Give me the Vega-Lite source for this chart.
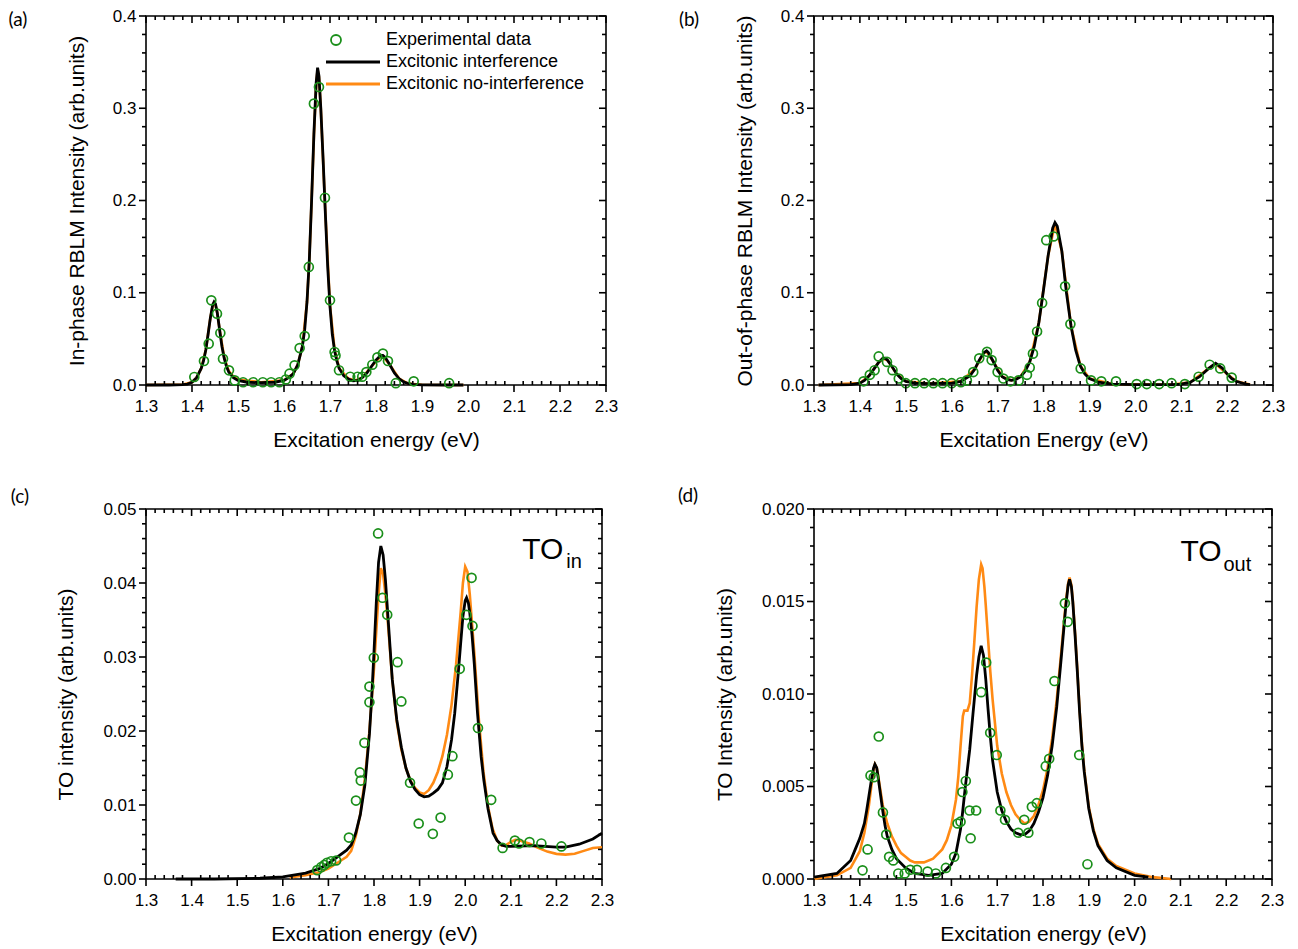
{
"$schema": "https://vega.github.io/schema/vega-lite/v6.json",
"padding": {"left": 7, "top": 6, "right": 5, "bottom": 5},
"config": {
  "view": {"stroke": "black", "strokeWidth": 1.6},
  "font": "Liberation Sans",
  "axis": {"grid": false, "domain": false, "ticks": false, "labelColor": "black", "labelFont": "Liberation Sans", "labelFontSize": 17, "titleFont": "Liberation Sans", "titleFontSize": 21, "titleFontWeight": "normal", "titleColor": "black", "labelFlush": false, "labelOverlap": false},
  "tick": {"opacity": 1, "color": "black", "thickness": 1.6},
  "legend": {"labelFont": "Liberation Sans"}
},
"datasets": {
  "xmaj": [{"energy":1.3},{"energy":1.4},{"energy":1.5},{"energy":1.6},{"energy":1.7},{"energy":1.8},{"energy":1.9},{"energy":2.0},{"energy":2.1},{"energy":2.2},{"energy":2.3}],
  "xmin": [{"energy":1.32},{"energy":1.34},{"energy":1.36},{"energy":1.38},{"energy":1.42},{"energy":1.44},{"energy":1.46},{"energy":1.48},{"energy":1.52},{"energy":1.54},{"energy":1.56},{"energy":1.58},{"energy":1.62},{"energy":1.64},{"energy":1.66},{"energy":1.68},{"energy":1.72},{"energy":1.74},{"energy":1.76},{"energy":1.78},{"energy":1.82},{"energy":1.84},{"energy":1.86},{"energy":1.88},{"energy":1.92},{"energy":1.94},{"energy":1.96},{"energy":1.98},{"energy":2.02},{"energy":2.04},{"energy":2.06},{"energy":2.08},{"energy":2.12},{"energy":2.14},{"energy":2.16},{"energy":2.18},{"energy":2.22},{"energy":2.24},{"energy":2.26},{"energy":2.28}],
  "yab_maj": [{"intensity":0},{"intensity":0.1},{"intensity":0.2},{"intensity":0.3},{"intensity":0.4}],
  "yab_min": [{"intensity":0.02},{"intensity":0.04},{"intensity":0.06},{"intensity":0.08},{"intensity":0.12},{"intensity":0.14},{"intensity":0.16},{"intensity":0.18},{"intensity":0.22},{"intensity":0.24},{"intensity":0.26},{"intensity":0.28},{"intensity":0.32},{"intensity":0.34},{"intensity":0.36},{"intensity":0.38}],
  "yc_maj": [{"intensity":0},{"intensity":0.01},{"intensity":0.02},{"intensity":0.03},{"intensity":0.04},{"intensity":0.05}],
  "yc_min": [{"intensity":0.002},{"intensity":0.004},{"intensity":0.006},{"intensity":0.008},{"intensity":0.012},{"intensity":0.014},{"intensity":0.016},{"intensity":0.018},{"intensity":0.022},{"intensity":0.024},{"intensity":0.026},{"intensity":0.028},{"intensity":0.032},{"intensity":0.034},{"intensity":0.036},{"intensity":0.038},{"intensity":0.042},{"intensity":0.044},{"intensity":0.046},{"intensity":0.048}],
  "yd_maj": [{"intensity":0},{"intensity":0.005},{"intensity":0.01},{"intensity":0.015},{"intensity":0.02}],
  "yd_min": [{"intensity":0.001},{"intensity":0.002},{"intensity":0.003},{"intensity":0.004},{"intensity":0.006},{"intensity":0.007},{"intensity":0.008},{"intensity":0.009},{"intensity":0.011},{"intensity":0.012},{"intensity":0.013},{"intensity":0.014},{"intensity":0.016},{"intensity":0.017},{"intensity":0.018},{"intensity":0.019}],
  "a_int": [{"energy":1.30,"intensity":0},{"energy":1.35,"intensity":0},{"energy":1.38,"intensity":0.0005},{"energy":1.39,"intensity":0.001},{"energy":1.40,"intensity":0.003},{"energy":1.41,"intensity":0.008},{"energy":1.42,"intensity":0.018},{"energy":1.425,"intensity":0.026},{"energy":1.43,"intensity":0.038},{"energy":1.435,"intensity":0.055},{"energy":1.44,"intensity":0.073},{"energy":1.445,"intensity":0.087},{"energy":1.448,"intensity":0.090},{"energy":1.451,"intensity":0.088},{"energy":1.455,"intensity":0.078},{"energy":1.46,"intensity":0.060},{"energy":1.465,"intensity":0.042},{"energy":1.47,"intensity":0.029},{"energy":1.475,"intensity":0.020},{"energy":1.48,"intensity":0.014},{"energy":1.49,"intensity":0.008},{"energy":1.50,"intensity":0.005},{"energy":1.52,"intensity":0.003},{"energy":1.55,"intensity":0.0025},{"energy":1.58,"intensity":0.003},{"energy":1.60,"intensity":0.005},{"energy":1.61,"intensity":0.008},{"energy":1.62,"intensity":0.012},{"energy":1.63,"intensity":0.022},{"energy":1.64,"intensity":0.042},{"energy":1.645,"intensity":0.060},{"energy":1.65,"intensity":0.090},{"energy":1.655,"intensity":0.135},{"energy":1.66,"intensity":0.200},{"energy":1.665,"intensity":0.272},{"energy":1.67,"intensity":0.328},{"energy":1.673,"intensity":0.344},{"energy":1.676,"intensity":0.335},{"energy":1.68,"intensity":0.300},{"energy":1.685,"intensity":0.245},{"energy":1.69,"intensity":0.185},{"energy":1.695,"intensity":0.128},{"energy":1.70,"intensity":0.085},{"energy":1.705,"intensity":0.055},{"energy":1.71,"intensity":0.037},{"energy":1.715,"intensity":0.026},{"energy":1.72,"intensity":0.018},{"energy":1.73,"intensity":0.010},{"energy":1.74,"intensity":0.0065},{"energy":1.75,"intensity":0.0045},{"energy":1.76,"intensity":0.005},{"energy":1.77,"intensity":0.008},{"energy":1.78,"intensity":0.013},{"energy":1.79,"intensity":0.020},{"energy":1.80,"intensity":0.027},{"energy":1.81,"intensity":0.032},{"energy":1.815,"intensity":0.032},{"energy":1.82,"intensity":0.030},{"energy":1.83,"intensity":0.022},{"energy":1.84,"intensity":0.013},{"energy":1.85,"intensity":0.007},{"energy":1.86,"intensity":0.0035},{"energy":1.87,"intensity":0.0015},{"energy":1.88,"intensity":0.0007},{"energy":1.90,"intensity":0.0002},{"energy":1.95,"intensity":0},{"energy":1.99,"intensity":0}],
  "a_noint": [{"energy":1.30,"intensity":0},{"energy":1.38,"intensity":0.0005},{"energy":1.40,"intensity":0.003},{"energy":1.41,"intensity":0.008},{"energy":1.42,"intensity":0.018},{"energy":1.43,"intensity":0.038},{"energy":1.44,"intensity":0.073},{"energy":1.445,"intensity":0.086},{"energy":1.448,"intensity":0.089},{"energy":1.451,"intensity":0.087},{"energy":1.455,"intensity":0.078},{"energy":1.46,"intensity":0.060},{"energy":1.47,"intensity":0.030},{"energy":1.48,"intensity":0.015},{"energy":1.49,"intensity":0.009},{"energy":1.50,"intensity":0.006},{"energy":1.55,"intensity":0.003},{"energy":1.60,"intensity":0.005},{"energy":1.62,"intensity":0.012},{"energy":1.63,"intensity":0.022},{"energy":1.64,"intensity":0.042},{"energy":1.65,"intensity":0.090},{"energy":1.655,"intensity":0.135},{"energy":1.66,"intensity":0.200},{"energy":1.665,"intensity":0.270},{"energy":1.67,"intensity":0.326},{"energy":1.673,"intensity":0.342},{"energy":1.676,"intensity":0.334},{"energy":1.68,"intensity":0.300},{"energy":1.69,"intensity":0.186},{"energy":1.70,"intensity":0.086},{"energy":1.71,"intensity":0.038},{"energy":1.72,"intensity":0.018},{"energy":1.74,"intensity":0.007},{"energy":1.755,"intensity":0.005},{"energy":1.77,"intensity":0.008},{"energy":1.79,"intensity":0.020},{"energy":1.81,"intensity":0.031},{"energy":1.815,"intensity":0.031},{"energy":1.83,"intensity":0.022},{"energy":1.85,"intensity":0.007},{"energy":1.87,"intensity":0.0015},{"energy":1.90,"intensity":0.0002},{"energy":1.99,"intensity":0}],
  "a_pts": [{"energy":1.405,"intensity":0.0087},{"energy":1.426,"intensity":0.026},{"energy":1.4363,"intensity":0.0448},{"energy":1.442,"intensity":0.0918},{"energy":1.4543,"intensity":0.0773},{"energy":1.4616,"intensity":0.0564},{"energy":1.4674,"intensity":0.0285},{"energy":1.4804,"intensity":0.0159},{"energy":1.4928,"intensity":0.005},{"energy":1.511,"intensity":0.003},{"energy":1.533,"intensity":0.003},{"energy":1.554,"intensity":0.003},{"energy":1.572,"intensity":0.003},{"energy":1.59,"intensity":0.003},{"energy":1.604,"intensity":0.006},{"energy":1.612,"intensity":0.0123},{"energy":1.623,"intensity":0.0213},{"energy":1.634,"intensity":0.040},{"energy":1.645,"intensity":0.053},{"energy":1.654,"intensity":0.128},{"energy":1.665,"intensity":0.305},{"energy":1.676,"intensity":0.323},{"energy":1.689,"intensity":0.203},{"energy":1.70,"intensity":0.0918},{"energy":1.710,"intensity":0.0358},{"energy":1.712,"intensity":0.032},{"energy":1.7196,"intensity":0.016},{"energy":1.744,"intensity":0.009},{"energy":1.76,"intensity":0.009},{"energy":1.77,"intensity":0.009},{"energy":1.779,"intensity":0.014},{"energy":1.792,"intensity":0.022},{"energy":1.803,"intensity":0.030},{"energy":1.815,"intensity":0.034},{"energy":1.826,"intensity":0.026},{"energy":1.843,"intensity":0.002},{"energy":1.882,"intensity":0.004},{"energy":1.959,"intensity":0.002}],
  "b_int": [{"energy":1.31,"intensity":0},{"energy":1.38,"intensity":0.0005},{"energy":1.40,"intensity":0.002},{"energy":1.41,"intensity":0.005},{"energy":1.42,"intensity":0.010},{"energy":1.43,"intensity":0.017},{"energy":1.44,"intensity":0.024},{"energy":1.45,"intensity":0.029},{"energy":1.455,"intensity":0.029},{"energy":1.46,"intensity":0.027},{"energy":1.47,"intensity":0.020},{"energy":1.48,"intensity":0.012},{"energy":1.49,"intensity":0.007},{"energy":1.50,"intensity":0.004},{"energy":1.52,"intensity":0.002},{"energy":1.55,"intensity":0.0015},{"energy":1.60,"intensity":0.002},{"energy":1.62,"intensity":0.004},{"energy":1.64,"intensity":0.010},{"energy":1.65,"intensity":0.017},{"energy":1.66,"intensity":0.027},{"energy":1.67,"intensity":0.035},{"energy":1.676,"intensity":0.037},{"energy":1.68,"intensity":0.035},{"energy":1.69,"intensity":0.026},{"energy":1.70,"intensity":0.016},{"energy":1.71,"intensity":0.009},{"energy":1.72,"intensity":0.006},{"energy":1.73,"intensity":0.005},{"energy":1.74,"intensity":0.006},{"energy":1.75,"intensity":0.009},{"energy":1.76,"intensity":0.015},{"energy":1.77,"intensity":0.025},{"energy":1.78,"intensity":0.042},{"energy":1.79,"intensity":0.068},{"energy":1.80,"intensity":0.103},{"energy":1.81,"intensity":0.140},{"energy":1.82,"intensity":0.170},{"energy":1.825,"intensity":0.176},{"energy":1.83,"intensity":0.172},{"energy":1.84,"intensity":0.145},{"energy":1.85,"intensity":0.100},{"energy":1.86,"intensity":0.064},{"energy":1.87,"intensity":0.038},{"energy":1.88,"intensity":0.021},{"energy":1.89,"intensity":0.012},{"energy":1.90,"intensity":0.007},{"energy":1.92,"intensity":0.003},{"energy":1.95,"intensity":0.001},{"energy":2.00,"intensity":0.0005},{"energy":2.08,"intensity":0.0005},{"energy":2.10,"intensity":0.001},{"energy":2.12,"intensity":0.003},{"energy":2.14,"intensity":0.009},{"energy":2.16,"intensity":0.018},{"energy":2.175,"intensity":0.0235},{"energy":2.19,"intensity":0.018},{"energy":2.20,"intensity":0.012},{"energy":2.21,"intensity":0.007},{"energy":2.22,"intensity":0.004},{"energy":2.24,"intensity":0.001},{"energy":2.25,"intensity":0.0005}],
  "b_noint": [{"energy":1.31,"intensity":0},{"energy":1.40,"intensity":0.002},{"energy":1.42,"intensity":0.010},{"energy":1.44,"intensity":0.024},{"energy":1.45,"intensity":0.0285},{"energy":1.46,"intensity":0.027},{"energy":1.48,"intensity":0.012},{"energy":1.50,"intensity":0.004},{"energy":1.55,"intensity":0.0015},{"energy":1.62,"intensity":0.004},{"energy":1.65,"intensity":0.017},{"energy":1.67,"intensity":0.035},{"energy":1.676,"intensity":0.036},{"energy":1.69,"intensity":0.026},{"energy":1.71,"intensity":0.009},{"energy":1.73,"intensity":0.005},{"energy":1.75,"intensity":0.009},{"energy":1.77,"intensity":0.025},{"energy":1.79,"intensity":0.068},{"energy":1.81,"intensity":0.140},{"energy":1.825,"intensity":0.175},{"energy":1.84,"intensity":0.145},{"energy":1.86,"intensity":0.064},{"energy":1.88,"intensity":0.021},{"energy":1.90,"intensity":0.007},{"energy":1.95,"intensity":0.001},{"energy":2.08,"intensity":0.0005},{"energy":2.12,"intensity":0.003},{"energy":2.16,"intensity":0.018},{"energy":2.175,"intensity":0.023},{"energy":2.20,"intensity":0.012},{"energy":2.22,"intensity":0.004},{"energy":2.25,"intensity":0.0005}],
  "b_pts": [{"energy":1.408,"intensity":0.004},{"energy":1.4216,"intensity":0.011},{"energy":1.432,"intensity":0.016},{"energy":1.441,"intensity":0.031},{"energy":1.459,"intensity":0.025},{"energy":1.471,"intensity":0.016},{"energy":1.4847,"intensity":0.007},{"energy":1.50,"intensity":0.002},{"energy":1.52,"intensity":0.002},{"energy":1.54,"intensity":0.002},{"energy":1.56,"intensity":0.002},{"energy":1.58,"intensity":0.002},{"energy":1.60,"intensity":0.002},{"energy":1.62,"intensity":0.003},{"energy":1.633,"intensity":0.005},{"energy":1.647,"intensity":0.014},{"energy":1.66,"intensity":0.029},{"energy":1.677,"intensity":0.036},{"energy":1.687,"intensity":0.027},{"energy":1.70,"intensity":0.014},{"energy":1.7126,"intensity":0.007},{"energy":1.728,"intensity":0.004},{"energy":1.746,"intensity":0.005},{"energy":1.764,"intensity":0.011},{"energy":1.77,"intensity":0.019},{"energy":1.777,"intensity":0.034},{"energy":1.786,"intensity":0.058},{"energy":1.797,"intensity":0.089},{"energy":1.806,"intensity":0.157},{"energy":1.822,"intensity":0.161},{"energy":1.847,"intensity":0.107},{"energy":1.8586,"intensity":0.066},{"energy":1.881,"intensity":0.018},{"energy":1.9036,"intensity":0.005},{"energy":1.926,"intensity":0.004},{"energy":1.958,"intensity":0.004},{"energy":2.003,"intensity":0.001},{"energy":2.025,"intensity":0.001},{"energy":2.052,"intensity":0.001},{"energy":2.079,"intensity":0.002},{"energy":2.108,"intensity":0.001},{"energy":2.138,"intensity":0.009},{"energy":2.162,"intensity":0.022},{"energy":2.185,"intensity":0.018},{"energy":2.21,"intensity":0.008}],
  "c_int": [{"energy":1.365,"intensity":0},{"energy":1.45,"intensity":0},{"energy":1.55,"intensity":0.0001},{"energy":1.60,"intensity":0.0003},{"energy":1.65,"intensity":0.0008},{"energy":1.68,"intensity":0.0014},{"energy":1.70,"intensity":0.0021},{"energy":1.72,"intensity":0.0030},{"energy":1.74,"intensity":0.0039},{"energy":1.75,"intensity":0.0046},{"energy":1.76,"intensity":0.0062},{"energy":1.77,"intensity":0.0087},{"energy":1.78,"intensity":0.0127},{"energy":1.79,"intensity":0.0196},{"energy":1.795,"intensity":0.0246},{"energy":1.80,"intensity":0.0307},{"energy":1.805,"intensity":0.0373},{"energy":1.81,"intensity":0.0428},{"energy":1.815,"intensity":0.0450},{"energy":1.82,"intensity":0.0438},{"energy":1.825,"intensity":0.0405},{"energy":1.83,"intensity":0.0360},{"energy":1.84,"intensity":0.0270},{"energy":1.85,"intensity":0.0215},{"energy":1.86,"intensity":0.0178},{"energy":1.87,"intensity":0.0150},{"energy":1.88,"intensity":0.0132},{"energy":1.89,"intensity":0.0121},{"energy":1.90,"intensity":0.0114},{"energy":1.91,"intensity":0.0111},{"energy":1.92,"intensity":0.0112},{"energy":1.93,"intensity":0.0116},{"energy":1.94,"intensity":0.0121},{"energy":1.95,"intensity":0.0130},{"energy":1.96,"intensity":0.0152},{"energy":1.97,"intensity":0.0188},{"energy":1.977,"intensity":0.0224},{"energy":1.985,"intensity":0.0280},{"energy":1.99,"intensity":0.0318},{"energy":1.995,"intensity":0.0355},{"energy":2.00,"intensity":0.0376},{"energy":2.003,"intensity":0.0380},{"energy":2.007,"intensity":0.0373},{"energy":2.01,"intensity":0.0360},{"energy":2.015,"intensity":0.0330},{"energy":2.02,"intensity":0.0290},{"energy":2.027,"intensity":0.0224},{"energy":2.035,"intensity":0.0165},{"energy":2.041,"intensity":0.0133},{"energy":2.05,"intensity":0.0095},{"energy":2.061,"intensity":0.0062},{"energy":2.07,"intensity":0.0052},{"energy":2.08,"intensity":0.0046},{"energy":2.09,"intensity":0.0044},{"energy":2.10,"intensity":0.0044},{"energy":2.15,"intensity":0.0045},{"energy":2.20,"intensity":0.0043},{"energy":2.22,"intensity":0.0043},{"energy":2.25,"intensity":0.0047},{"energy":2.28,"intensity":0.0054},{"energy":2.30,"intensity":0.0062}],
  "c_noint": [{"energy":1.615,"intensity":0.0002},{"energy":1.65,"intensity":0.0005},{"energy":1.68,"intensity":0.0009},{"energy":1.70,"intensity":0.0014},{"energy":1.72,"intensity":0.0022},{"energy":1.74,"intensity":0.0030},{"energy":1.75,"intensity":0.0038},{"energy":1.76,"intensity":0.0058},{"energy":1.77,"intensity":0.0088},{"energy":1.78,"intensity":0.0135},{"energy":1.79,"intensity":0.0200},{"energy":1.80,"intensity":0.0285},{"energy":1.805,"intensity":0.0335},{"energy":1.81,"intensity":0.0385},{"energy":1.815,"intensity":0.0420},{"energy":1.82,"intensity":0.0412},{"energy":1.825,"intensity":0.0385},{"energy":1.83,"intensity":0.0350},{"energy":1.84,"intensity":0.0270},{"energy":1.85,"intensity":0.0212},{"energy":1.86,"intensity":0.0175},{"energy":1.87,"intensity":0.0150},{"energy":1.88,"intensity":0.0133},{"energy":1.89,"intensity":0.0123},{"energy":1.90,"intensity":0.0117},{"energy":1.91,"intensity":0.0115},{"energy":1.92,"intensity":0.0120},{"energy":1.93,"intensity":0.0130},{"energy":1.94,"intensity":0.0145},{"energy":1.95,"intensity":0.0166},{"energy":1.96,"intensity":0.0195},{"energy":1.97,"intensity":0.0235},{"energy":1.98,"intensity":0.0290},{"energy":1.99,"intensity":0.0360},{"energy":1.995,"intensity":0.0400},{"energy":2.00,"intensity":0.0422},{"energy":2.005,"intensity":0.0415},{"energy":2.01,"intensity":0.0385},{"energy":2.02,"intensity":0.0305},{"energy":2.03,"intensity":0.0215},{"energy":2.04,"intensity":0.0145},{"energy":2.05,"intensity":0.0098},{"energy":2.06,"intensity":0.0068},{"energy":2.07,"intensity":0.0052},{"energy":2.08,"intensity":0.0045},{"energy":2.09,"intensity":0.0046},{"energy":2.10,"intensity":0.0050},{"energy":2.11,"intensity":0.0053},{"energy":2.12,"intensity":0.0052},{"energy":2.14,"intensity":0.0048},{"energy":2.16,"intensity":0.0042},{"energy":2.18,"intensity":0.0037},{"energy":2.20,"intensity":0.0034},{"energy":2.22,"intensity":0.0033},{"energy":2.24,"intensity":0.0034},{"energy":2.26,"intensity":0.0038},{"energy":2.28,"intensity":0.0042},{"energy":2.30,"intensity":0.0043}],
  "c_pts": [{"energy":1.6755,"intensity":0.0012},{"energy":1.684,"intensity":0.0016},{"energy":1.691,"intensity":0.0019},{"energy":1.697,"intensity":0.0022},{"energy":1.706,"intensity":0.0024},{"energy":1.717,"intensity":0.0025},{"energy":1.745,"intensity":0.0056},{"energy":1.7605,"intensity":0.0106},{"energy":1.769,"intensity":0.0144},{"energy":1.771,"intensity":0.0133},{"energy":1.779,"intensity":0.0184},{"energy":1.790,"intensity":0.0239},{"energy":1.790,"intensity":0.026},{"energy":1.7996,"intensity":0.0299},{"energy":1.809,"intensity":0.0467},{"energy":1.8186,"intensity":0.038},{"energy":1.829,"intensity":0.0357},{"energy":1.8516,"intensity":0.0293},{"energy":1.860,"intensity":0.024},{"energy":1.879,"intensity":0.013},{"energy":1.898,"intensity":0.0075},{"energy":1.929,"intensity":0.0061},{"energy":1.946,"intensity":0.0083},{"energy":1.962,"intensity":0.0141},{"energy":1.972,"intensity":0.0166},{"energy":1.988,"intensity":0.0284},{"energy":2.0025,"intensity":0.0357},{"energy":2.014,"intensity":0.0407},{"energy":2.016,"intensity":0.0342},{"energy":2.028,"intensity":0.0204},{"energy":2.057,"intensity":0.0107},{"energy":2.082,"intensity":0.0042},{"energy":2.109,"intensity":0.0052},{"energy":2.118,"intensity":0.0048},{"energy":2.141,"intensity":0.005},{"energy":2.167,"intensity":0.0048},{"energy":2.211,"intensity":0.0044}],
  "d_int": [{"energy":1.30,"intensity":0.0001},{"energy":1.35,"intensity":0.0003},{"energy":1.38,"intensity":0.0010},{"energy":1.39,"intensity":0.0016},{"energy":1.40,"intensity":0.0022},{"energy":1.41,"intensity":0.0030},{"energy":1.415,"intensity":0.0037},{"energy":1.42,"intensity":0.0045},{"energy":1.425,"intensity":0.0053},{"energy":1.43,"intensity":0.0060},{"energy":1.433,"intensity":0.0062},{"energy":1.437,"intensity":0.0060},{"energy":1.44,"intensity":0.0055},{"energy":1.445,"intensity":0.0046},{"energy":1.45,"intensity":0.0037},{"energy":1.455,"intensity":0.0029},{"energy":1.46,"intensity":0.0023},{"energy":1.47,"intensity":0.0016},{"energy":1.48,"intensity":0.0011},{"energy":1.50,"intensity":0.0006},{"energy":1.52,"intensity":0.0003},{"energy":1.55,"intensity":0.0002},{"energy":1.58,"intensity":0.0003},{"energy":1.60,"intensity":0.0008},{"energy":1.61,"intensity":0.0014},{"energy":1.62,"intensity":0.0027},{"energy":1.624,"intensity":0.0035},{"energy":1.63,"intensity":0.0049},{"energy":1.64,"intensity":0.0070},{"energy":1.647,"intensity":0.0089},{"energy":1.655,"intensity":0.0110},{"energy":1.66,"intensity":0.0120},{"energy":1.665,"intensity":0.0126},{"energy":1.67,"intensity":0.0121},{"energy":1.675,"intensity":0.0108},{"energy":1.68,"intensity":0.0092},{"energy":1.685,"intensity":0.0077},{"energy":1.69,"intensity":0.0064},{"energy":1.70,"intensity":0.0047},{"energy":1.71,"intensity":0.0037},{"energy":1.72,"intensity":0.0031},{"energy":1.73,"intensity":0.0027},{"energy":1.74,"intensity":0.0025},{"energy":1.75,"intensity":0.0024},{"energy":1.76,"intensity":0.0024},{"energy":1.77,"intensity":0.0026},{"energy":1.78,"intensity":0.0030},{"energy":1.79,"intensity":0.0036},{"energy":1.80,"intensity":0.0044},{"energy":1.81,"intensity":0.0056},{"energy":1.82,"intensity":0.0072},{"energy":1.83,"intensity":0.0093},{"energy":1.84,"intensity":0.0120},{"energy":1.85,"intensity":0.0148},{"energy":1.855,"intensity":0.0159},{"energy":1.858,"intensity":0.0162},{"energy":1.862,"intensity":0.0158},{"energy":1.865,"intensity":0.0150},{"energy":1.87,"intensity":0.0132},{"energy":1.875,"intensity":0.0112},{"energy":1.88,"intensity":0.0090},{"energy":1.885,"intensity":0.0072},{"energy":1.89,"intensity":0.0058},{"energy":1.90,"intensity":0.0038},{"energy":1.91,"intensity":0.0026},{"energy":1.92,"intensity":0.0018},{"energy":1.94,"intensity":0.0010},{"energy":1.96,"intensity":0.0006},{"energy":2.00,"intensity":0.0002},{"energy":2.03,"intensity":0.0001}],
  "d_noint": [{"energy":1.30,"intensity":0},{"energy":1.35,"intensity":0.0002},{"energy":1.38,"intensity":0.0006},{"energy":1.40,"intensity":0.0015},{"energy":1.41,"intensity":0.0025},{"energy":1.42,"intensity":0.0040},{"energy":1.425,"intensity":0.0050},{"energy":1.43,"intensity":0.0059},{"energy":1.433,"intensity":0.0062},{"energy":1.437,"intensity":0.0060},{"energy":1.44,"intensity":0.0056},{"energy":1.445,"intensity":0.0048},{"energy":1.45,"intensity":0.0040},{"energy":1.46,"intensity":0.0030},{"energy":1.47,"intensity":0.0023},{"energy":1.48,"intensity":0.0018},{"energy":1.49,"intensity":0.0014},{"energy":1.50,"intensity":0.0012},{"energy":1.51,"intensity":0.0010},{"energy":1.52,"intensity":0.0009},{"energy":1.54,"intensity":0.0009},{"energy":1.56,"intensity":0.0011},{"energy":1.58,"intensity":0.0016},{"energy":1.59,"intensity":0.0021},{"energy":1.60,"intensity":0.0029},{"energy":1.61,"intensity":0.0043},{"energy":1.615,"intensity":0.0055},{"energy":1.62,"intensity":0.0072},{"energy":1.625,"intensity":0.0088},{"energy":1.628,"intensity":0.0091},{"energy":1.635,"intensity":0.0091},{"energy":1.64,"intensity":0.0095},{"energy":1.645,"intensity":0.0110},{"energy":1.65,"intensity":0.0128},{"energy":1.655,"intensity":0.0147},{"energy":1.66,"intensity":0.0162},{"energy":1.665,"intensity":0.0170},{"energy":1.668,"intensity":0.0168},{"energy":1.672,"intensity":0.0158},{"energy":1.675,"intensity":0.0148},{"energy":1.68,"intensity":0.0130},{"energy":1.685,"intensity":0.0112},{"energy":1.69,"intensity":0.0097},{"energy":1.70,"intensity":0.0072},{"energy":1.71,"intensity":0.0057},{"energy":1.72,"intensity":0.0047},{"energy":1.73,"intensity":0.0040},{"energy":1.74,"intensity":0.0035},{"energy":1.75,"intensity":0.0032},{"energy":1.76,"intensity":0.0030},{"energy":1.77,"intensity":0.0031},{"energy":1.78,"intensity":0.0034},{"energy":1.79,"intensity":0.0040},{"energy":1.80,"intensity":0.0048},{"energy":1.81,"intensity":0.0060},{"energy":1.82,"intensity":0.0076},{"energy":1.83,"intensity":0.0097},{"energy":1.84,"intensity":0.0123},{"energy":1.85,"intensity":0.0150},{"energy":1.855,"intensity":0.0160},{"energy":1.858,"intensity":0.0163},{"energy":1.862,"intensity":0.0159},{"energy":1.865,"intensity":0.0151},{"energy":1.87,"intensity":0.0133},{"energy":1.875,"intensity":0.0113},{"energy":1.88,"intensity":0.0091},{"energy":1.885,"intensity":0.0073},{"energy":1.89,"intensity":0.0059},{"energy":1.90,"intensity":0.0039},{"energy":1.91,"intensity":0.0027},{"energy":1.92,"intensity":0.0019},{"energy":1.94,"intensity":0.0011},{"energy":1.96,"intensity":0.0007},{"energy":2.00,"intensity":0.0003},{"energy":2.04,"intensity":0.0001},{"energy":2.08,"intensity":0}],
  "d_pts": [{"energy":1.406,"intensity":0.00047},{"energy":1.417,"intensity":0.0016},{"energy":1.4234,"intensity":0.0056},{"energy":1.4306,"intensity":0.0055},{"energy":1.4414,"intensity":0.0077},{"energy":1.4505,"intensity":0.0036},{"energy":1.4577,"intensity":0.0024},{"energy":1.464,"intensity":0.0012},{"energy":1.473,"intensity":0.001},{"energy":1.484,"intensity":0.0003},{"energy":1.498,"intensity":0.0003},{"energy":1.51,"intensity":0.0005},{"energy":1.525,"intensity":0.0005},{"energy":1.548,"intensity":0.0004},{"energy":1.566,"intensity":0.0003},{"energy":1.588,"intensity":0.0006},{"energy":1.606,"intensity":0.0012},{"energy":1.6135,"intensity":0.003},{"energy":1.62,"intensity":0.0031},{"energy":1.624,"intensity":0.0047},{"energy":1.6315,"intensity":0.0053},{"energy":1.6396,"intensity":0.0037},{"energy":1.642,"intensity":0.0022},{"energy":1.654,"intensity":0.0037},{"energy":1.665,"intensity":0.0101},{"energy":1.676,"intensity":0.0117},{"energy":1.6847,"intensity":0.0079},{"energy":1.699,"intensity":0.0067},{"energy":1.707,"intensity":0.0037},{"energy":1.717,"intensity":0.0032},{"energy":1.746,"intensity":0.0025},{"energy":1.759,"intensity":0.0032},{"energy":1.768,"intensity":0.0025},{"energy":1.7757,"intensity":0.0039},{"energy":1.7865,"intensity":0.0041},{"energy":1.806,"intensity":0.0061},{"energy":1.8135,"intensity":0.0065},{"energy":1.825,"intensity":0.0107},{"energy":1.8477,"intensity":0.0149},{"energy":1.854,"intensity":0.0139},{"energy":1.879,"intensity":0.0067},{"energy":1.897,"intensity":0.0008}]
},
"concat": [
  {
    "width": 460, "height": 369,
    "resolve": {"axis": {"x": "independent", "y": "independent"}},
    "layer": [
      {"data": {"name": "a_noint"}, "mark": {"type": "line", "strokeWidth": 2.6},
       "encoding": {
         "x": {"field": "energy", "type": "quantitative", "scale": {"domain": [1.3, 2.3], "nice": false, "zero": false}, "axis": {"orient": "bottom", "values": [1.3,1.4,1.5,1.6,1.7,1.8,1.9,2.0,2.1,2.2,2.3], "format": ".1f", "labelPadding": 13, "title": "Excitation energy (eV)", "titlePadding": 15}},
         "y": {"field": "intensity", "type": "quantitative", "scale": {"domain": [0, 0.4], "nice": false}, "axis": {"orient": "left", "values": [0,0.1,0.2,0.3,0.4], "format": ".1f", "labelPadding": 10, "title": "In-phase RBLM Intensity (arb.units)", "titlePadding": 25}},
         "color": {"datum": "Excitonic no-interference", "scale": {"domain": ["Experimental data", "Excitonic interference", "Excitonic no-interference"], "range": ["#1a8f1a", "#000000", "#ff8a14"]},
           "legend": {"orient": "none", "legendX": 198, "legendY": 15, "title": null, "padding": 0, "symbolSize": 100, "labelFontSize": 18, "labelLimit": 400, "labelOffset": 24, "rowPadding": 4, "symbolOpacity": 1, "encode": {"symbols": {"update": {"shape": {"signal": "datum.value === 'Experimental data' ? 'M -4.4,0 A 1,1 0 1,0 -2.4,0 A 1,1 0 1,0 -4.4,0 Z' : 'M -5.4,0 L 5.4,0'"}, "fill": {"value": "transparent"}, "strokeWidth": {"signal": "datum.value === 'Experimental data' ? 1.8 : 3"}}}}}}
       }},
      {"data": {"name": "a_int"}, "mark": {"type": "line", "strokeWidth": 2.8},
       "encoding": {
         "x": {"field": "energy", "type": "quantitative", "axis": null},
         "y": {"field": "intensity", "type": "quantitative", "axis": null},
         "color": {"datum": "Excitonic interference", "scale": {"domain": ["Experimental data", "Excitonic interference", "Excitonic no-interference"], "range": ["#1a8f1a", "#000000", "#ff8a14"]},
           "legend": {"orient": "none", "legendX": 198, "legendY": 15, "title": null, "padding": 0, "symbolSize": 100, "labelFontSize": 18, "labelLimit": 400, "labelOffset": 24, "rowPadding": 4, "symbolOpacity": 1, "encode": {"symbols": {"update": {"shape": {"signal": "datum.value === 'Experimental data' ? 'M -4.4,0 A 1,1 0 1,0 -2.4,0 A 1,1 0 1,0 -4.4,0 Z' : 'M -5.4,0 L 5.4,0'"}, "fill": {"value": "transparent"}, "strokeWidth": {"signal": "datum.value === 'Experimental data' ? 1.8 : 3"}}}}}}
       }},
      {"data": {"name": "a_pts"}, "mark": {"type": "point", "shape": "circle", "filled": false, "size": 80, "strokeWidth": 1.7, "opacity": 1},
       "encoding": {
         "x": {"field": "energy", "type": "quantitative", "axis": null},
         "y": {"field": "intensity", "type": "quantitative", "axis": null},
         "color": {"datum": "Experimental data", "scale": {"domain": ["Experimental data", "Excitonic interference", "Excitonic no-interference"], "range": ["#1a8f1a", "#000000", "#ff8a14"]},
           "legend": {"orient": "none", "legendX": 198, "legendY": 15, "title": null, "padding": 0, "symbolSize": 100, "labelFontSize": 18, "labelLimit": 400, "labelOffset": 24, "rowPadding": 4, "symbolOpacity": 1, "encode": {"symbols": {"update": {"shape": {"signal": "datum.value === 'Experimental data' ? 'M -4.4,0 A 1,1 0 1,0 -2.4,0 A 1,1 0 1,0 -4.4,0 Z' : 'M -5.4,0 L 5.4,0'"}, "fill": {"value": "transparent"}, "strokeWidth": {"signal": "datum.value === 'Experimental data' ? 1.8 : 3"}}}}}}
       }},
      {"data": {"values": [{}]}, "mark": {"type": "text", "font": "Lato", "fontSize": 19, "dx": -128, "dy": 4, "align": "center", "baseline": "middle", "color": "black"},
       "encoding": {"x": {"datum": 1.3, "type": "quantitative", "axis": null}, "y": {"datum": 0.4, "type": "quantitative", "axis": null}, "text": {"value": "(a)"}}},
      {"data": {"name": "xmaj"}, "mark": {"type": "tick", "orient": "vertical", "size": 7, "yOffset": 3.5}, "encoding": {"x": {"field": "energy", "type": "quantitative", "axis": null}, "y": {"datum": 0, "type": "quantitative", "axis": null}}},
      {"data": {"name": "xmin"}, "mark": {"type": "tick", "orient": "vertical", "size": 4, "yOffset": -2}, "encoding": {"x": {"field": "energy", "type": "quantitative", "axis": null}, "y": {"datum": 0, "type": "quantitative", "axis": null}}},
      {"data": {"name": "xmaj"}, "mark": {"type": "tick", "orient": "vertical", "size": 7, "yOffset": 3.5}, "encoding": {"x": {"field": "energy", "type": "quantitative", "axis": null}, "y": {"datum": 0.4, "type": "quantitative", "axis": null}}},
      {"data": {"name": "xmin"}, "mark": {"type": "tick", "orient": "vertical", "size": 4, "yOffset": 2}, "encoding": {"x": {"field": "energy", "type": "quantitative", "axis": null}, "y": {"datum": 0.4, "type": "quantitative", "axis": null}}},
      {"data": {"name": "yab_maj"}, "mark": {"type": "tick", "orient": "horizontal", "size": 7, "xOffset": -3.5}, "encoding": {"y": {"field": "intensity", "type": "quantitative", "axis": null}, "x": {"datum": 1.3, "type": "quantitative", "axis": null}}},
      {"data": {"name": "yab_min"}, "mark": {"type": "tick", "orient": "horizontal", "size": 4, "xOffset": -2}, "encoding": {"y": {"field": "intensity", "type": "quantitative", "axis": null}, "x": {"datum": 1.3, "type": "quantitative", "axis": null}}},
      {"data": {"name": "yab_maj"}, "mark": {"type": "tick", "orient": "horizontal", "size": 7, "xOffset": -3.5}, "encoding": {"y": {"field": "intensity", "type": "quantitative", "axis": null}, "x": {"datum": 2.3, "type": "quantitative", "axis": null}}},
      {"data": {"name": "yab_min"}, "mark": {"type": "tick", "orient": "horizontal", "size": 4, "xOffset": -2}, "encoding": {"y": {"field": "intensity", "type": "quantitative", "axis": null}, "x": {"datum": 2.3, "type": "quantitative", "axis": null}}}
    ]
  },
  {
    "width": 459, "height": 369,
    "resolve": {"axis": {"x": "independent", "y": "independent"}},
    "layer": [
      {"data": {"name": "b_noint"}, "mark": {"type": "line", "strokeWidth": 2.6, "color": "#ff8a14"},
       "encoding": {
         "x": {"field": "energy", "type": "quantitative", "scale": {"domain": [1.3, 2.3], "nice": false, "zero": false}, "axis": {"orient": "bottom", "values": [1.3,1.4,1.5,1.6,1.7,1.8,1.9,2.0,2.1,2.2,2.3], "format": ".1f", "labelPadding": 13, "title": "Excitation Energy (eV)", "titlePadding": 15}},
         "y": {"field": "intensity", "type": "quantitative", "scale": {"domain": [0, 0.4], "nice": false}, "axis": {"orient": "left", "values": [0,0.1,0.2,0.3,0.4], "format": ".1f", "labelPadding": 10, "title": "Out-of-phase RBLM Intensity (arb.units)", "titlePadding": 25}}
       }},
      {"data": {"name": "b_int"}, "mark": {"type": "line", "strokeWidth": 2.8, "color": "#000000"},
       "encoding": {"x": {"field": "energy", "type": "quantitative", "axis": null}, "y": {"field": "intensity", "type": "quantitative", "axis": null}}},
      {"data": {"name": "b_pts"}, "mark": {"type": "point", "filled": false, "size": 80, "strokeWidth": 1.7, "opacity": 1, "color": "#1a8f1a"},
       "encoding": {"x": {"field": "energy", "type": "quantitative", "axis": null}, "y": {"field": "intensity", "type": "quantitative", "axis": null}}},
      {"data": {"values": [{}]}, "mark": {"type": "text", "font": "Lato", "fontSize": 19, "dx": -125, "dy": 4, "align": "center", "baseline": "middle", "color": "black"},
       "encoding": {"x": {"datum": 1.3, "type": "quantitative", "axis": null}, "y": {"datum": 0.4, "type": "quantitative", "axis": null}, "text": {"value": "(b)"}}},
      {"data": {"name": "xmaj"}, "mark": {"type": "tick", "orient": "vertical", "size": 7, "yOffset": 3.5}, "encoding": {"x": {"field": "energy", "type": "quantitative", "axis": null}, "y": {"datum": 0, "type": "quantitative", "axis": null}}},
      {"data": {"name": "xmin"}, "mark": {"type": "tick", "orient": "vertical", "size": 4, "yOffset": -2}, "encoding": {"x": {"field": "energy", "type": "quantitative", "axis": null}, "y": {"datum": 0, "type": "quantitative", "axis": null}}},
      {"data": {"name": "xmaj"}, "mark": {"type": "tick", "orient": "vertical", "size": 7, "yOffset": 3.5}, "encoding": {"x": {"field": "energy", "type": "quantitative", "axis": null}, "y": {"datum": 0.4, "type": "quantitative", "axis": null}}},
      {"data": {"name": "xmin"}, "mark": {"type": "tick", "orient": "vertical", "size": 4, "yOffset": 2}, "encoding": {"x": {"field": "energy", "type": "quantitative", "axis": null}, "y": {"datum": 0.4, "type": "quantitative", "axis": null}}},
      {"data": {"name": "yab_maj"}, "mark": {"type": "tick", "orient": "horizontal", "size": 7, "xOffset": -3.5}, "encoding": {"y": {"field": "intensity", "type": "quantitative", "axis": null}, "x": {"datum": 1.3, "type": "quantitative", "axis": null}}},
      {"data": {"name": "yab_min"}, "mark": {"type": "tick", "orient": "horizontal", "size": 4, "xOffset": -2}, "encoding": {"y": {"field": "intensity", "type": "quantitative", "axis": null}, "x": {"datum": 1.3, "type": "quantitative", "axis": null}}},
      {"data": {"name": "yab_maj"}, "mark": {"type": "tick", "orient": "horizontal", "size": 7, "xOffset": -3.5}, "encoding": {"y": {"field": "intensity", "type": "quantitative", "axis": null}, "x": {"datum": 2.3, "type": "quantitative", "axis": null}}},
      {"data": {"name": "yab_min"}, "mark": {"type": "tick", "orient": "horizontal", "size": 4, "xOffset": -2}, "encoding": {"y": {"field": "intensity", "type": "quantitative", "axis": null}, "x": {"datum": 2.3, "type": "quantitative", "axis": null}}}
    ]
  },
  {
    "width": 456, "height": 370,
    "resolve": {"axis": {"x": "independent", "y": "independent"}},
    "layer": [
      {"data": {"name": "c_noint"}, "mark": {"type": "line", "strokeWidth": 2.6, "color": "#ff8a14"},
       "encoding": {
         "x": {"field": "energy", "type": "quantitative", "scale": {"domain": [1.3, 2.3], "nice": false, "zero": false}, "axis": {"orient": "bottom", "values": [1.3,1.4,1.5,1.6,1.7,1.8,1.9,2.0,2.1,2.2,2.3], "format": ".1f", "labelPadding": 13, "title": "Excitation energy (eV)", "titlePadding": 15}},
         "y": {"field": "intensity", "type": "quantitative", "scale": {"domain": [0, 0.05], "nice": false}, "axis": {"orient": "left", "values": [0,0.01,0.02,0.03,0.04,0.05], "format": ".2f", "labelPadding": 10, "title": "TO intensity (arb.units)", "titlePadding": 26}}
       }},
      {"data": {"name": "c_int"}, "mark": {"type": "line", "strokeWidth": 2.8, "color": "#000000"},
       "encoding": {"x": {"field": "energy", "type": "quantitative", "axis": null}, "y": {"field": "intensity", "type": "quantitative", "axis": null}}},
      {"data": {"name": "c_pts"}, "mark": {"type": "point", "filled": false, "size": 80, "strokeWidth": 1.7, "opacity": 1, "color": "#1a8f1a"},
       "encoding": {"x": {"field": "energy", "type": "quantitative", "axis": null}, "y": {"field": "intensity", "type": "quantitative", "axis": null}}},
      {"data": {"values": [{}]}, "mark": {"type": "text", "font": "Lato", "fontSize": 19, "dx": -126, "dy": -12, "align": "center", "baseline": "middle", "color": "black"},
       "encoding": {"x": {"datum": 1.3, "type": "quantitative", "axis": null}, "y": {"datum": 0.05, "type": "quantitative", "axis": null}, "text": {"value": "(c)"}}},
      {"data": {"values": [{}]}, "mark": {"type": "text", "font": "Liberation Sans", "fontSize": 30, "align": "left", "baseline": "alphabetic", "color": "black"},
       "encoding": {"x": {"datum": 2.125, "type": "quantitative", "axis": null}, "y": {"datum": 0.0433, "type": "quantitative", "axis": null}, "text": {"value": "TO"}}},
      {"data": {"values": [{}]}, "mark": {"type": "text", "font": "Liberation Sans", "fontSize": 20, "align": "left", "baseline": "alphabetic", "dx": 44, "dy": 9, "color": "black"},
       "encoding": {"x": {"datum": 2.125, "type": "quantitative", "axis": null}, "y": {"datum": 0.0433, "type": "quantitative", "axis": null}, "text": {"value": "in"}}},
      {"data": {"name": "xmaj"}, "mark": {"type": "tick", "orient": "vertical", "size": 7, "yOffset": 3.5}, "encoding": {"x": {"field": "energy", "type": "quantitative", "axis": null}, "y": {"datum": 0, "type": "quantitative", "axis": null}}},
      {"data": {"name": "xmin"}, "mark": {"type": "tick", "orient": "vertical", "size": 4, "yOffset": -2}, "encoding": {"x": {"field": "energy", "type": "quantitative", "axis": null}, "y": {"datum": 0, "type": "quantitative", "axis": null}}},
      {"data": {"name": "xmaj"}, "mark": {"type": "tick", "orient": "vertical", "size": 7, "yOffset": 3.5}, "encoding": {"x": {"field": "energy", "type": "quantitative", "axis": null}, "y": {"datum": 0.05, "type": "quantitative", "axis": null}}},
      {"data": {"name": "xmin"}, "mark": {"type": "tick", "orient": "vertical", "size": 4, "yOffset": 2}, "encoding": {"x": {"field": "energy", "type": "quantitative", "axis": null}, "y": {"datum": 0.05, "type": "quantitative", "axis": null}}},
      {"data": {"name": "yc_maj"}, "mark": {"type": "tick", "orient": "horizontal", "size": 7, "xOffset": -3.5}, "encoding": {"y": {"field": "intensity", "type": "quantitative", "axis": null}, "x": {"datum": 1.3, "type": "quantitative", "axis": null}}},
      {"data": {"name": "yc_min"}, "mark": {"type": "tick", "orient": "horizontal", "size": 4, "xOffset": -2}, "encoding": {"y": {"field": "intensity", "type": "quantitative", "axis": null}, "x": {"datum": 1.3, "type": "quantitative", "axis": null}}},
      {"data": {"name": "yc_maj"}, "mark": {"type": "tick", "orient": "horizontal", "size": 7, "xOffset": -3.5}, "encoding": {"y": {"field": "intensity", "type": "quantitative", "axis": null}, "x": {"datum": 2.3, "type": "quantitative", "axis": null}}},
      {"data": {"name": "yc_min"}, "mark": {"type": "tick", "orient": "horizontal", "size": 4, "xOffset": -2}, "encoding": {"y": {"field": "intensity", "type": "quantitative", "axis": null}, "x": {"datum": 2.3, "type": "quantitative", "axis": null}}}
    ]
  },
  {
    "width": 458, "height": 370,
    "resolve": {"axis": {"x": "independent", "y": "independent"}},
    "layer": [
      {"data": {"name": "d_noint"}, "mark": {"type": "line", "strokeWidth": 2.6, "color": "#ff8a14"},
       "encoding": {
         "x": {"field": "energy", "type": "quantitative", "scale": {"domain": [1.3, 2.3], "nice": false, "zero": false}, "axis": {"orient": "bottom", "values": [1.3,1.4,1.5,1.6,1.7,1.8,1.9,2.0,2.1,2.2,2.3], "format": ".1f", "labelPadding": 13, "title": "Excitation energy (eV)", "titlePadding": 15}},
         "y": {"field": "intensity", "type": "quantitative", "scale": {"domain": [0, 0.02], "nice": false}, "axis": {"orient": "left", "values": [0,0.005,0.01,0.015,0.02], "format": ".3f", "labelPadding": 10, "title": "TO Intensity (arb.units)", "titlePadding": 26}}
       }},
      {"data": {"name": "d_int"}, "mark": {"type": "line", "strokeWidth": 2.8, "color": "#000000"},
       "encoding": {"x": {"field": "energy", "type": "quantitative", "axis": null}, "y": {"field": "intensity", "type": "quantitative", "axis": null}}},
      {"data": {"name": "d_pts"}, "mark": {"type": "point", "filled": false, "size": 80, "strokeWidth": 1.7, "opacity": 1, "color": "#1a8f1a"},
       "encoding": {"x": {"field": "energy", "type": "quantitative", "axis": null}, "y": {"field": "intensity", "type": "quantitative", "axis": null}}},
      {"data": {"values": [{}]}, "mark": {"type": "text", "font": "Lato", "fontSize": 19, "dx": -126, "dy": -13, "align": "center", "baseline": "middle", "color": "black"},
       "encoding": {"x": {"datum": 1.3, "type": "quantitative", "axis": null}, "y": {"datum": 0.02, "type": "quantitative", "axis": null}, "text": {"value": "(d)"}}},
      {"data": {"values": [{}]}, "mark": {"type": "text", "font": "Liberation Sans", "fontSize": 30, "align": "left", "baseline": "alphabetic", "color": "black"},
       "encoding": {"x": {"datum": 2.1, "type": "quantitative", "axis": null}, "y": {"datum": 0.0172, "type": "quantitative", "axis": null}, "text": {"value": "TO"}}},
      {"data": {"values": [{}]}, "mark": {"type": "text", "font": "Liberation Sans", "fontSize": 20, "align": "left", "baseline": "alphabetic", "dx": 43, "dy": 10, "color": "black"},
       "encoding": {"x": {"datum": 2.1, "type": "quantitative", "axis": null}, "y": {"datum": 0.0172, "type": "quantitative", "axis": null}, "text": {"value": "out"}}},
      {"data": {"name": "xmaj"}, "mark": {"type": "tick", "orient": "vertical", "size": 7, "yOffset": 3.5}, "encoding": {"x": {"field": "energy", "type": "quantitative", "axis": null}, "y": {"datum": 0, "type": "quantitative", "axis": null}}},
      {"data": {"name": "xmin"}, "mark": {"type": "tick", "orient": "vertical", "size": 4, "yOffset": -2}, "encoding": {"x": {"field": "energy", "type": "quantitative", "axis": null}, "y": {"datum": 0, "type": "quantitative", "axis": null}}},
      {"data": {"name": "xmaj"}, "mark": {"type": "tick", "orient": "vertical", "size": 7, "yOffset": 3.5}, "encoding": {"x": {"field": "energy", "type": "quantitative", "axis": null}, "y": {"datum": 0.02, "type": "quantitative", "axis": null}}},
      {"data": {"name": "xmin"}, "mark": {"type": "tick", "orient": "vertical", "size": 4, "yOffset": 2}, "encoding": {"x": {"field": "energy", "type": "quantitative", "axis": null}, "y": {"datum": 0.02, "type": "quantitative", "axis": null}}},
      {"data": {"name": "yd_maj"}, "mark": {"type": "tick", "orient": "horizontal", "size": 7, "xOffset": -3.5}, "encoding": {"y": {"field": "intensity", "type": "quantitative", "axis": null}, "x": {"datum": 1.3, "type": "quantitative", "axis": null}}},
      {"data": {"name": "yd_min"}, "mark": {"type": "tick", "orient": "horizontal", "size": 4, "xOffset": -2}, "encoding": {"y": {"field": "intensity", "type": "quantitative", "axis": null}, "x": {"datum": 1.3, "type": "quantitative", "axis": null}}},
      {"data": {"name": "yd_maj"}, "mark": {"type": "tick", "orient": "horizontal", "size": 7, "xOffset": -3.5}, "encoding": {"y": {"field": "intensity", "type": "quantitative", "axis": null}, "x": {"datum": 2.3, "type": "quantitative", "axis": null}}},
      {"data": {"name": "yd_min"}, "mark": {"type": "tick", "orient": "horizontal", "size": 4, "xOffset": -2}, "encoding": {"y": {"field": "intensity", "type": "quantitative", "axis": null}, "x": {"datum": 2.3, "type": "quantitative", "axis": null}}}
    ]
  }
],
"columns": 2,
"spacing": {"row": 35, "column": 58},
"resolve": {"scale": {"color": "independent"}, "legend": {"color": "independent"}}
}
